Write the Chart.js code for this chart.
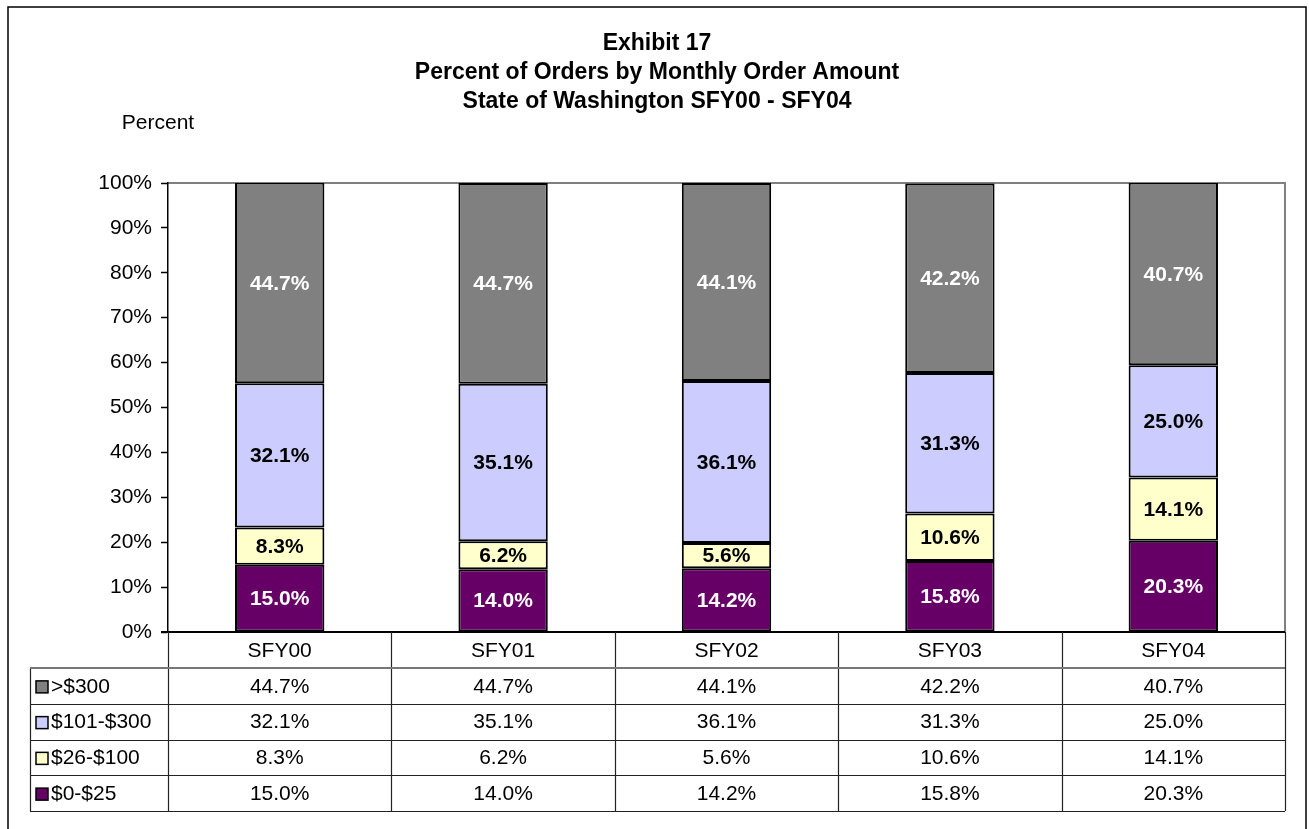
<!DOCTYPE html>
<html>
<head>
<meta charset="utf-8">
<script src="https://cdn.jsdelivr.net/npm/chart.js@4"></script>
<style>
  body { margin: 0; background: #fff; }
</style>
</head>
<body>
<canvas id="orderChart" width="1309" height="829"></canvas>
<script>
const years = ['SFY00', 'SFY01', 'SFY02', 'SFY03', 'SFY04'];
const over300 = [44.7, 44.7, 44.1, 42.2, 40.7];
const from101 = [32.1, 35.1, 36.1, 31.3, 25.0];
const from26 = [8.3, 6.2, 5.6, 10.6, 14.1];
const upTo25 = [15.0, 14.0, 14.2, 15.8, 20.3];

const FONT = "Arial, 'Liberation Sans', sans-serif";

// table rows go top-down, stack goes bottom-up
const tableRows = [
    { label: '>$300', data: over300, color: '#808080' },
    { label: '$101-$300', data: from101, color: '#CCCCFF' },
    { label: '$26-$100', data: from26, color: '#FFFFCC' },
    { label: '$0-$25', data: upTo25, color: '#660066' }
];

const labelColors = { '>$300': '#fff', '$101-$300': '#000', '$26-$100': '#000', '$0-$25': '#fff' };

const frame = {
    id: 'frame',
    beforeDraw(chart) {
        const ctx = chart.ctx;
        ctx.save();
        ctx.fillStyle = '#fff';
        ctx.fillRect(0, 0, chart.width, chart.height);
        ctx.strokeStyle = '#000';
        ctx.lineWidth = 1.5;
        ctx.strokeRect(8, 7, 1298, 840);

        ctx.fillStyle = '#000';
        ctx.textAlign = 'center';
        ctx.textBaseline = 'middle';
        ctx.font = 'bold 23px ' + FONT;
        ctx.fillText('Exhibit 17', 657, 44);
        ctx.fillText('Percent of Orders by Monthly Order Amount', 657, 73);
        ctx.fillText('State of Washington SFY00 - SFY04', 657, 102);
        ctx.font = '21px ' + FONT;
        ctx.fillText('Percent', 158, 123);

        const a = chart.chartArea;
        ctx.strokeStyle = '#808080';
        ctx.lineWidth = 2;
        ctx.beginPath();
        ctx.moveTo(a.left, a.top);
        ctx.lineTo(a.right, a.top);
        ctx.lineTo(a.right, a.bottom);
        ctx.stroke();
        ctx.restore();
    },
    afterDatasetsDraw(chart) {
        const ctx = chart.ctx;
        ctx.save();
        ctx.font = 'bold 21px ' + FONT;
        ctx.textAlign = 'center';
        ctx.textBaseline = 'middle';
        chart.data.datasets.forEach((ds, i) => {
            const meta = chart.getDatasetMeta(i);
            meta.data.forEach((bar, j) => {
                ctx.fillStyle = labelColors[ds.label];
                ctx.fillText(ds.data[j].toFixed(1) + '%', bar.x, (bar.y + bar.base) / 2 + 1);
            });
        });
        ctx.restore();
    },
    afterDraw(chart) {
        const ctx = chart.ctx;
        const x = chart.scales.x;
        const a = chart.chartArea;
        const step = x.width / years.length;
        const headH = 36, rowH = 35.75;
        const top = a.bottom;
        const first = top + headH;
        const bottom = first + rowH * tableRows.length;
        const keyLeft = 30;

        ctx.save();
        // axis baseline
        ctx.strokeStyle = '#000';
        ctx.lineWidth = 2;
        ctx.beginPath();
        ctx.moveTo(a.left - 7, a.bottom);
        ctx.lineTo(a.right, a.bottom);
        ctx.stroke();

        // grid of the data table
        ctx.lineWidth = 1.2;
        ctx.strokeStyle = '#222';
        ctx.beginPath();
        for (let i = 0; i <= years.length; i++) {
            const bx = Math.round(x.left + i * step) + 0.5;
            ctx.moveTo(bx, top);
            ctx.lineTo(bx, bottom);
        }
        ctx.moveTo(keyLeft + 0.5, first);
        ctx.lineTo(keyLeft + 0.5, bottom);
        for (let r = 1; r <= tableRows.length; r++) {
            const y = Math.round(first + r * rowH) + 0.5;
            ctx.moveTo(keyLeft, y);
            ctx.lineTo(x.right, y);
        }
        ctx.stroke();
        ctx.strokeStyle = '#777';
        ctx.lineWidth = 2;
        ctx.beginPath();
        ctx.moveTo(keyLeft, first);
        ctx.lineTo(x.right, first);
        ctx.stroke();

        ctx.fillStyle = '#000';
        ctx.font = '21px ' + FONT;
        ctx.textBaseline = 'middle';
        ctx.textAlign = 'center';
        years.forEach((yr, i) => {
            ctx.fillText(yr, x.getPixelForValue(i), top + headH / 2 + 1);
        });
        tableRows.forEach((row, r) => {
            const cy = first + r * rowH + rowH / 2 + 1;
            row.data.forEach((v, i) => {
                ctx.fillText(v.toFixed(1) + '%', x.getPixelForValue(i), cy);
            });
            ctx.fillStyle = row.color;
            ctx.fillRect(36, cy - 6, 12, 12);
            ctx.strokeStyle = '#000';
            ctx.lineWidth = 1.5;
            ctx.strokeRect(36, cy - 6, 12, 12);
            ctx.fillStyle = '#000';
            ctx.textAlign = 'left';
            ctx.fillText(row.label, 51, cy);
            ctx.textAlign = 'center';
        });
        ctx.restore();
    }
};

const canvas = document.getElementById('orderChart');
new Chart(canvas.getContext('2d'), {
    type: 'bar',
    data: {
        labels: years,
        datasets: tableRows.slice().reverse().map(row => ({
            label: row.label,
            data: row.data,
            backgroundColor: row.color,
            borderColor: '#000',
            borderWidth: 2,
            borderSkipped: false,
            barPercentage: 0.4,
            categoryPercentage: 1
        }))
    },
    options: {
        responsive: false,
        animation: false,
        layout: { padding: { top: 183, bottom: 197, left: 0, right: 24 } },
        plugins: {
            legend: { display: false },
            title: { display: false },
            tooltip: { enabled: false }
        },
        scales: {
            x: { stacked: true, display: false },
            y: {
                stacked: true,
                min: 0,
                max: 100,
                afterFit(scale) { scale.width = 168; },
                ticks: {
                    stepSize: 10,
                    color: '#000',
                    padding: 9,
                    font: { family: FONT, size: 21 },
                    callback: v => v + '%'
                },
                grid: { drawOnChartArea: false, tickLength: 7, tickColor: '#000', tickWidth: 1.5 },
                border: { color: '#000', width: 1.5 }
            }
        }
    },
    plugins: [frame]
});
</script>
</body>
</html>
